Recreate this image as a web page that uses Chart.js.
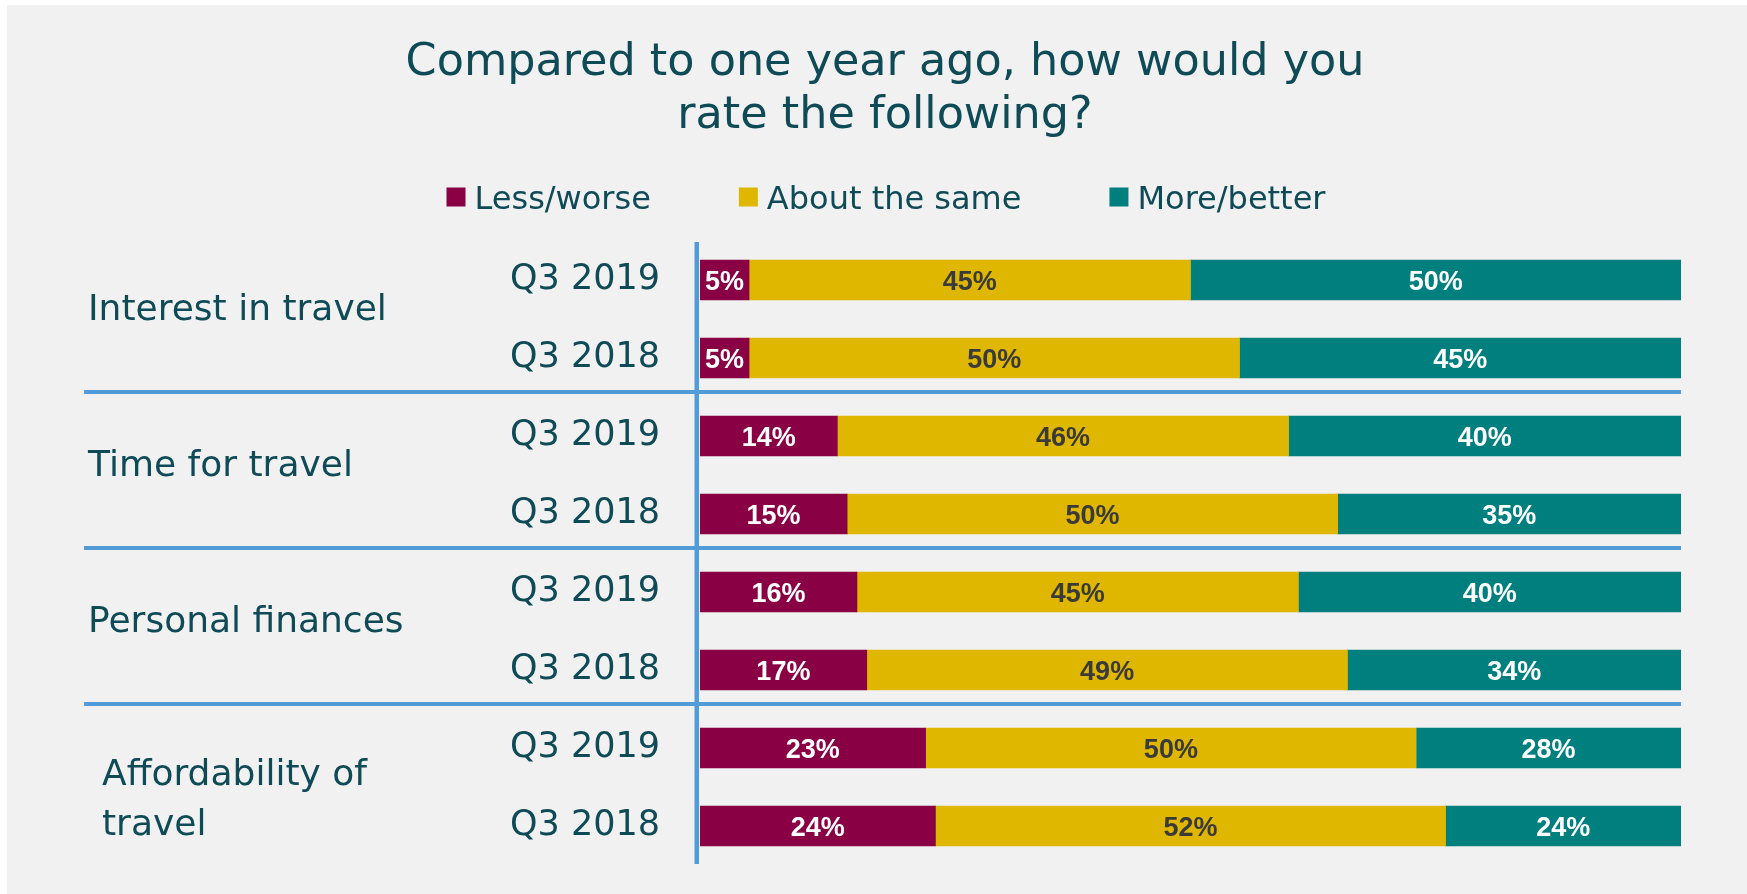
<!DOCTYPE html>
<html>
<head>
<meta charset="utf-8">
<script src="https://cdn.jsdelivr.net/npm/chart.js@4.4.1/dist/chart.umd.min.js"></script>
<style>
  html, body { margin: 0; padding: 0; background: #ffffff; }
  #wrap { position: absolute; left: 7px; top: 5px; width: 1740px; height: 889px; background: #f1f1f1; }
  canvas { display: block; }
</style>
</head>
<body>
<div id="wrap"><canvas id="chart" width="1740" height="889"></canvas></div>
<script>
// ---- data ----
const titleLines = ['Compared to one year ago, how would you', 'rate the following?'];
const groupLabels = [['Interest in travel'], ['Time for travel'], ['Personal finances'], ['Affordability of', 'travel']];
const rowLabels = ['Q3 2019', 'Q3 2018', 'Q3 2019', 'Q3 2018', 'Q3 2019', 'Q3 2018', 'Q3 2019', 'Q3 2018'];
const seriesNames = ['Less/worse', 'About the same', 'More/better'];
const lessWorse  = [5, 5, 14, 15, 16, 17, 23, 24];
const aboutSame  = [45, 50, 46, 50, 45, 49, 50, 52];
const moreBetter = [50, 45, 40, 35, 40, 34, 28, 24];

// ---- styling ----
const seriesColors = ['#8a0045', '#e0b700', '#007f7f'];
const valueColors  = ['#ffffff', '#3a3a3a', '#ffffff'];
const textColor = '#0f4a57';
const ruleColor = '#509bd8';
const sansFont = '"DejaVu Sans", "Liberation Sans", Arial, sans-serif';
const valueFont = 'bold 27px "Liberation Sans", Arial, sans-serif';

// Title, legend, group labels, rules and value labels
const decorations = {
  id: 'decorations',
  afterDraw(chart) {
    const { ctx } = chart;
    ctx.save();

    // title
    ctx.fillStyle = textColor;
    ctx.font = '44.5px ' + sansFont;
    ctx.textAlign = 'center';
    ctx.textBaseline = 'alphabetic';
    titleLines.forEach((t, i) => ctx.fillText(t, 878, 70 + i * 53));

    // legend
    ctx.font = '32px ' + sansFont;
    const box = 19, boxGap = 9, itemGap = 88;
    const widths = seriesNames.map(n => ctx.measureText(n).width);
    const total = widths.reduce((s, w) => s + box + boxGap + w, 0) + itemGap * (seriesNames.length - 1);
    let lx = 879 - total / 2;
    const legendMid = 192;
    ctx.textAlign = 'left';
    seriesNames.forEach((n, i) => {
      ctx.fillStyle = seriesColors[i];
      ctx.fillRect(lx, legendMid - box / 2, box, box);
      ctx.fillStyle = textColor;
      ctx.fillText(n, lx + box + boxGap, legendMid + 11.5);
      lx += box + boxGap + widths[i] + itemGap;
    });
    ctx.restore();
  },
  afterDatasetsDraw(chart) {
    const { ctx, chartArea: a, scales: { y } } = chart;
    ctx.save();

    // value labels centred on the visible part of each segment
    ctx.font = valueFont;
    ctx.textAlign = 'center';
    ctx.textBaseline = 'alphabetic';
    chart.data.datasets.forEach((ds, di) => {
      chart.getDatasetMeta(di).data.forEach((bar, i) => {
        const l = Math.max(Math.min(bar.base, bar.x), a.left);
        const r = Math.min(Math.max(bar.base, bar.x), a.right);
        ctx.fillStyle = valueColors[di];
        ctx.fillText(ds.data[i] + '%', (l + r) / 2, bar.y + 9.5);
      });
    });

    // group labels on the left
    ctx.fillStyle = textColor;
    ctx.font = '36px ' + sansFont;
    ctx.textAlign = 'left';
    groupLabels.forEach((lines, g) => {
      const mid = (y.getPixelForValue(2 * g) + y.getPixelForValue(2 * g + 1)) / 2;
      if (lines.length === 1) {
        ctx.fillText(lines[0], 81, mid - 12 + 13);
      } else {
        lines.forEach((t, k) => ctx.fillText(t, 95, mid - 15 + 13 + k * 50));
      }
    });

    // rules between groups and the vertical axis line
    ctx.fillStyle = ruleColor;
    for (let g = 1; g < groupLabels.length; g++) {
      const yy = (y.getPixelForValue(2 * g - 1) + y.getPixelForValue(2 * g)) / 2 - 5;
      ctx.fillRect(77, yy - 2, a.right - 77, 4);
    }
    ctx.fillRect(a.left - 5.5, a.top + 1, 4.5, a.bottom - a.top - 2);
    ctx.restore();
  }
};

const datasets = [lessWorse, aboutSame, moreBetter].map((values, i) => ({
  label: seriesNames[i],
  data: values,
  backgroundColor: seriesColors[i],
  borderWidth: 0,
  barThickness: 40,
  clip: 0
}));

new Chart(document.getElementById('chart'), {
  type: 'bar',
  data: { labels: rowLabels, datasets },
  options: {
    responsive: false,
    animation: false,
    devicePixelRatio: 1,
    indexAxis: 'y',
    layout: { padding: { top: 236, right: 66, bottom: 29, left: 0 } },
    plugins: {
      legend: { display: false },
      title: { display: false },
      tooltip: { enabled: false }
    },
    scales: {
      x: { stacked: true, min: 0, max: 100, display: false },
      y: {
        stacked: true,
        grid: { display: false, drawTicks: false },
        border: { display: false },
        ticks: {
          padding: 40,
          autoSkip: false,
          color: textColor,
          font: { family: sansFont, size: 35 }
        },
        afterFit(scale) {
          scale.width = 693;
          scale.paddingTop = 0;
          scale.paddingBottom = 0;
        }
      }
    }
  },
  plugins: [decorations]
});
</script>
</body>
</html>
